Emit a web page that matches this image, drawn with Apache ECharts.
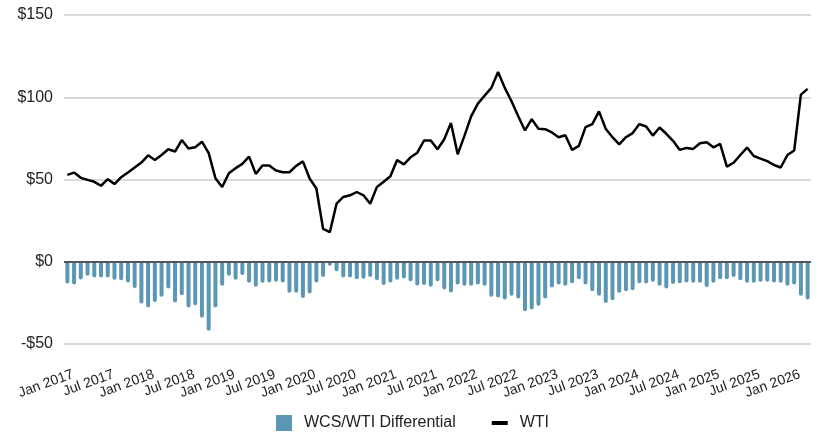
<!DOCTYPE html>
<html>
<head>
<meta charset="utf-8">
<script src="https://cdn.jsdelivr.net/npm/echarts@6/dist/echarts.min.js"></script>
<style>
  html, body { margin: 0; padding: 0; background: #fff; }
  #chart { width: 818px; height: 433px; }
</style>
</head>
<body>
<div id="chart"></div>
<script>
// monthly, Jan 2017 .. Mar 2026
const monthNames = ['Jan','Feb','Mar','Apr','May','Jun','Jul','Aug','Sep','Oct','Nov','Dec']
const years = [2017, 2018, 2019, 2020, 2021, 2022, 2023, 2024, 2025, 2026]
const lastMonthCount = 3 // Jan-Mar 2026

const categories = []
years.forEach((y, yi) => {
  const n = yi === years.length - 1 ? lastMonthCount : 12
  for (let m = 0; m < n; m++) categories.push(monthNames[m] + ' ' + y)
})

// WCS/WTI differential, $/bbl
const differential = [
  -13.2, -13.8, -10.8, -8.5, -9.6, -9.6, -9.6, -11, -11.2, -12.6, -15.9, -25.4,
  -27.8, -24.4, -21.3, -16.3, -24.8, -20.3, -27.8, -26.4, -34.1, -42, -27.8, -14.6,
  -8.5, -11, -8.1, -12.8, -15.2, -12.8, -12.6, -12.2, -12.6, -18.9, -18.9, -22,
  -19.3, -12.6, -9.3, -2.4, -5.7, -9.6, -9.6, -10.6, -10.4, -9.3, -11.2, -14.2,
  -12.6, -11, -10.2, -11.8, -14.4, -14.2, -15.2, -11.8, -16.9, -18.7, -13.8, -14.6,
  -14.6, -13.8, -14.6, -21.3, -21.7, -23, -20.7, -22.4, -30.1, -29.1, -26.8, -22.4,
  -15.7, -13.8, -14.6, -13, -10.6, -13.8, -17.9, -20.7, -25, -23.4, -18.9, -17.9,
  -17.3, -13, -13.2, -12.2, -14.6, -16.3, -13.6, -13, -12.6, -12.8, -12.8, -15.4,
  -12.8, -10.6, -10.6, -9.3, -11.2, -12.8, -12.8, -12.2, -12.2, -12.6, -12.8, -14.6,
  -13.8, -20.7, -23
]

// WTI, $/bbl
const wti = [
  52.8, 54.2, 51, 49.8, 48.6, 46.2, 50.2, 47.2, 51.4, 54.2, 57.3, 60.3,
  64.7, 61.9, 64.9, 68.4, 67, 74, 68.8, 69.6, 73, 66, 50.8, 45.4,
  53.8, 56.9, 59.5, 63.9, 53.4, 58.5, 58.5, 55.5, 54.4, 54.4, 58.3, 61,
  50.6, 44.5, 20, 18, 35.3, 39.4, 40.4, 42.4, 40.4, 35.3, 45.5, 48.6,
  52, 61.8, 59.2, 63.5, 66.3, 73.7, 73.7, 68.4, 74.5, 84.3, 65.3, 76.5,
  88.4, 96.1, 101, 105.7, 115.3, 105.7, 97.6, 88.4, 79.8, 86.7, 80.8, 80.6,
  78.6, 75.7, 76.9, 68, 70.4, 81.8, 83.7, 91.4, 80.8, 75.7, 71.4, 75.7,
  78.2, 83.7, 82.2, 76.7, 81.6, 77.8, 73.5, 68, 69.2, 68.6, 72, 72.7,
  69.6, 71.6, 57.8, 60.2, 64.9, 69.4, 64.3, 62.7, 61.2, 58.8, 57.3, 64.9,
  67.6, 101.6, 105.1
]

const yTicks = { min: -50, max: 150, interval: 50 }

const font = "'Liberation Sans', Arial, sans-serif"
const chart = echarts.init(document.getElementById('chart'))

const option = {
  animation: false,
  textStyle: { fontFamily: font },
  grid: { left: 64, right: 7, top: 15, bottom: 89 },
  legend: {
    left: 276,
    top: 415,
    padding: 0,
    itemWidth: 16,
    itemHeight: 16,
    itemGap: 36,
    textStyle: { fontSize: 16, color: '#222', fontFamily: font, padding: [0, 0, 0, 7] },
    data: [
      { name: 'WCS/WTI Differential', icon: 'rect' },
      { name: 'WTI', icon: 'path://M0,0H16V4H0Z' }
    ]
  },
  xAxis: {
    type: 'category',
    data: categories,
    axisLine: { show: false, onZero: false },
    axisTick: { show: false },
    axisLabel: {
      interval: 5,
      rotate: 20,
      margin: 32,
      fontSize: 14,
      color: '#222',
      fontFamily: font,
      padding: [0, -6, 0, 0]
    }
  },
  yAxis: {
    type: 'value',
    min: yTicks.min,
    max: yTicks.max,
    interval: yTicks.interval,
    axisLine: { show: false },
    axisTick: { show: false },
    axisLabel: {
      margin: 11,
      fontSize: 16,
      color: '#222',
      fontFamily: font,
      formatter: v => (v < 0 ? '-$' + Math.abs(v) : '$' + v)
    },
    splitLine: { lineStyle: { color: '#d9d9d9', width: 2 } }
  },
  series: [
    {
      name: 'WCS/WTI Differential',
      type: 'bar',
      data: differential,
      barWidth: 4,
      itemStyle: { color: '#5b96b4', borderRadius: 2 },
      markLine: {
        silent: true,
        symbol: 'none',
        label: { show: false },
        lineStyle: { color: '#555', type: 'solid', width: 2 },
        data: [{ yAxis: 0 }]
      }
    },
    {
      name: 'WTI',
      type: 'line',
      data: wti,
      symbol: 'none',
      z: 5,
      lineStyle: { color: '#000', width: 2.5 },
      itemStyle: { color: '#000' }
    }
  ]
}

chart.setOption(option)
</script>
</body>
</html>
